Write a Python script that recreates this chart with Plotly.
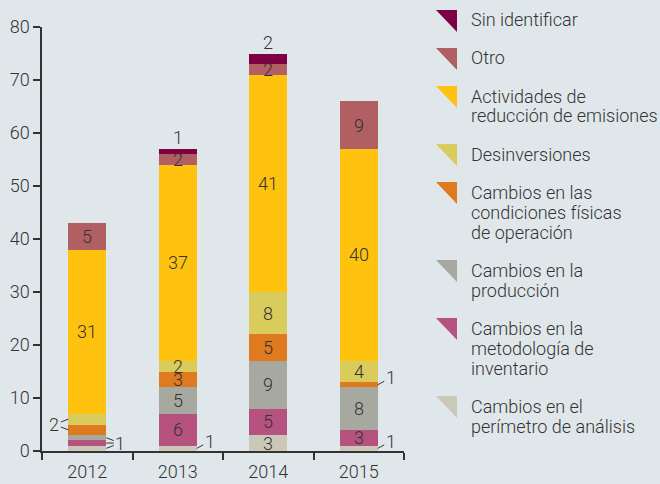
import numpy as np
import plotly.graph_objects as go

# ---------------- data ----------------
years = ["2012", "2013", "2014", "2015"]

# stack order: bottom -> top
series_names = [
    "Cambios en el<br>perímetro de análisis",
    "Cambios en la<br>metodología de<br>inventario",
    "Cambios en la<br>producción",
    "Cambios en las<br>condiciones físicas<br>de operación",
    "Desinversiones",
    "Actividades de<br>reducción de emisiones",
    "Otro",
    "Sin identificar",
]
perimetro = [1, 1, 3, 1]
metodologia = [1, 6, 5, 3]
produccion = [1, 5, 9, 8]
condiciones = [2, 3, 5, 1]
desinversiones = [2, 2, 8, 4]
actividades = [31, 37, 41, 40]
otro = [5, 2, 2, 9]
sin_identificar = [0, 1, 2, 0]

y_ticks = [0, 10, 20, 30, 40, 50, 60, 70, 80]

series_values = [perimetro, metodologia, produccion, condiciones,
                 desinversiones, actividades, otro, sin_identificar]
colors = ["#CBC8B9", "#B5527F", "#A7A9A1", "#E07A1F",
          "#D9CB5C", "#FFC20F", "#B05F62", "#7D0044"]

# ---------------- layout constants ----------------
W, H = 660, 484
ML, MR, MT, MB = 42, 256, 27, 33
PW, PH = W - ML - MR, H - MT - MB
BAR_W = 0.42
TXT = "#333333"
FONT = "Roboto, Liberation Sans, Arial, sans-serif"
FS = 18
FW = 300

def fnt(color=TXT):
    return dict(size=FS, color=color, family=FONT, weight=FW)

vals = np.array(series_values, dtype=float)
bases = np.vstack([np.zeros(vals.shape[1]), np.cumsum(vals, axis=0)[:-1]])
centers = bases + vals / 2
totals = vals.sum(axis=0)

fig = go.Figure()
for name, v, c in zip(series_names, series_values, colors):
    fig.add_trace(go.Bar(
        x=years, y=v, name=name.replace("<br>", " "),
        marker=dict(color=c, line=dict(width=0)),
        width=BAR_W, showlegend=False,
    ))

annotations = []
shapes = []

# segments labelled outside with leader lines: (year index, [series idx], side)
callouts = [
    (0, [0, 1, 2], "right"),
    (0, [3, 4], "left"),
    (1, [0], "right"),
    (3, [3], "right"),
    (3, [0], "right"),
]
outside = {(s, yi) for yi, ss, _ in callouts for s in ss}
TOP = len(series_values) - 1

# inside labels
for s in range(TOP):
    for yi in range(len(years)):
        v = vals[s, yi]
        if v <= 0 or (s, yi) in outside:
            continue
        annotations.append(dict(
            x=yi, y=centers[s, yi], xref="x", yref="y",
            text=str(int(v)), showarrow=False, font=fnt(),
        ))

# top segment ("Sin identificar") labelled above bar
for yi in range(len(years)):
    v = vals[TOP, yi]
    if v > 0:
        annotations.append(dict(
            x=yi, y=totals[yi], xref="x", yref="y", yanchor="bottom",
            text=str(int(v)), showarrow=False, yshift=-1, font=fnt(),
        ))

px_per_x = PW / len(years)
px_per_y = PH / 80.0
for yi, ss, side in callouts:
    sign = 1 if side == "right" else -1
    edge = yi + sign * BAR_W / 2
    label = str(int(vals[ss[0], yi]))
    if len(ss) == 1:
        tx = edge + sign * 13 / px_per_x
        ty = centers[ss[0], yi] + 7 / px_per_y
    else:
        tx = edge + sign * 14 / px_per_x
        ty = (bases[ss[0], yi] + bases[ss[-1], yi] + vals[ss[-1], yi]) / 2
    for k, s in enumerate(ss):
        annotations.append(dict(
            x=edge, y=centers[s, yi], xref="x", yref="y",
            ax=tx, ay=ty, axref="x", ayref="y",
            text=label, showarrow=True, arrowhead=0, arrowwidth=1,
            arrowcolor=TXT, standoff=0, startstandoff=0,
            font=fnt(TXT if k == 0 else "rgba(0,0,0,0)"),
        ))

# ---------------- custom legend ----------------
def pxx(px):
    return (px - ML) / PW

def pxy(py):
    return (MT + PH - py) / PH

icon_x0, icon_x1, icon_h = 436, 457, 22
text_x = 469
line_h = 20
top = 10
for s in range(len(series_names) - 1, -1, -1):
    lines = series_names[s].split("<br>")
    x0, x1 = pxx(icon_x0), pxx(icon_x1)
    y0, y1 = pxy(top), pxy(top + icon_h)
    shapes.append(dict(
        type="path", xref="paper", yref="paper",
        path=f"M {x0},{y0} L {x1},{y0} L {x1},{y1} Z",
        fillcolor=colors[s], line=dict(width=0),
    ))
    for j, ln in enumerate(lines):
        annotations.append(dict(
            x=pxx(text_x), y=pxy(top + 10 + j * line_h),
            xref="paper", yref="paper", xanchor="left", yanchor="middle",
            text=ln, showarrow=False, font=fnt(),
        ))
    top += 18 + line_h * len(lines)

fig.update_layout(
    width=W, height=H,
    margin=dict(l=ML, r=MR, t=MT, b=MB, pad=0, autoexpand=False),
    paper_bgcolor="#E0E7EA", plot_bgcolor="#E0E7EA",
    barmode="stack", bargap=0.5,
    font=fnt(),
    annotations=annotations, shapes=shapes,
    xaxis=dict(
        type="category", range=[-0.5, 3.5], automargin=False,
        showline=True, linecolor=TXT, linewidth=1.5,
        ticks="outside", tickson="boundaries", ticklen=7,
        tickcolor=TXT, tickwidth=1.5, showgrid=False, zeroline=False,
        ticklabelstandoff=4,
        tickfont=fnt(),
    ),
    yaxis=dict(
        range=[0, 80], tickvals=y_ticks, ticktext=[str(t) for t in y_ticks],
        automargin=False,
        showline=True, linecolor=TXT, linewidth=1.5,
        ticks="outside", ticklen=7, tickcolor=TXT, tickwidth=1.5,
        showgrid=False, zeroline=False,
        tickfont=fnt(),
    ),
)

fig.write_html(
    "out.html",
    config={"displayModeBar": False},
    post_script=(
        "document.documentElement.style.margin='0';"
        "document.body.style.margin='0';document.body.style.padding='0';"
        "document.body.style.overflow='hidden';"
        "document.body.style.background='#E0E7EA';"
    ),
)
